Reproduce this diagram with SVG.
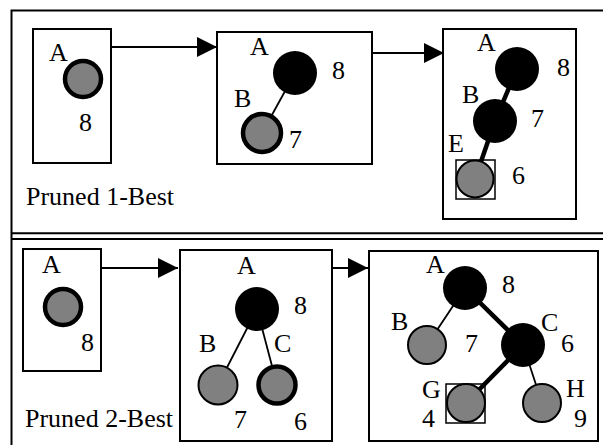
<svg xmlns="http://www.w3.org/2000/svg" width="603" height="445" viewBox="0 0 603 445">
  <defs>
    <marker id="head" viewBox="0 0 20 20" refX="20" refY="10" markerWidth="20" markerHeight="20" markerUnits="userSpaceOnUse" orient="auto">
      <path d="M0,0 L20,10 L0,20 Z" fill="#000"/>
    </marker>
  </defs>
  <style>
    text { font-family: "Liberation Serif", "Times New Roman", serif; font-size: 26px; fill: #000; }
    .frame { fill: none; stroke: #000; stroke-width: 2; }
    .box { fill: #fff; stroke: #000; stroke-width: 2; }
    .sel { fill: none; stroke: #000; stroke-width: 1.5; }
    .open { fill: #808080; stroke: #000; stroke-width: 2; }
    .open-best { fill: #808080; stroke: #000; stroke-width: 4.5; }
    .closed { fill: #000; stroke: none; }
    .edge { stroke: #000; stroke-width: 1.8; fill: none; }
    .edge-best { stroke: #000; stroke-width: 4.5; fill: none; }
    .flow { stroke: #000; stroke-width: 2; fill: none; marker-end: url(#head); }
  </style>

  <rect width="603" height="445" fill="#fff"/>

  <!-- page frame and divider between the two runs -->
  <g id="frame">
    <path class="frame" d="M11.5,445 V10.5 H603"/>
    <line class="frame" x1="11" y1="233.3" x2="603" y2="233.3"/>
    <line class="frame" x1="11" y1="239" x2="603" y2="239"/>
  </g>

  <!-- search steps, top row: pruned 1-best -->
  <g id="step1a">
    <rect class="box" x="33" y="29" width="78" height="134"/>
    <text x="49" y="61">A</text>
    <circle class="open-best" cx="83" cy="79" r="18"/>
    <text x="79" y="131">8</text>
  </g>

  <g id="step1b">
    <rect class="box" x="217" y="32" width="155" height="132"/>
    <line class="edge" x1="295" y1="73" x2="262" y2="133"/>
    <circle class="closed" cx="295" cy="73" r="22"/>
    <circle class="open-best" cx="262" cy="133" r="19"/>
    <text x="250" y="55">A</text>
    <text x="332" y="79">8</text>
    <text x="234" y="107">B</text>
    <text x="289" y="148">7</text>
  </g>

  <g id="step1c">
    <rect class="box" x="443" y="29" width="133" height="190"/>
    <line class="edge-best" x1="517" y1="69" x2="495" y2="121"/>
    <line class="edge-best" x1="495" y1="121" x2="475" y2="179"/>
    <circle class="closed" cx="517" cy="69" r="22"/>
    <circle class="closed" cx="495" cy="121" r="22"/>
    <circle class="open" cx="475" cy="179" r="18.5"/>
    <rect class="sel" x="456" y="160" width="39" height="39"/>
    <text x="477" y="51">A</text>
    <text x="557" y="76">8</text>
    <text x="462" y="103">B</text>
    <text x="531" y="127">7</text>
    <text x="448" y="152">E</text>
    <text x="512" y="184">6</text>
  </g>

  <text x="26" y="205">Pruned 1-Best</text>

  <!-- search steps, bottom row: pruned 2-best -->
  <g id="step2a">
    <rect class="box" x="23" y="249" width="78" height="122"/>
    <text x="42" y="273">A</text>
    <circle class="open-best" cx="63" cy="307" r="18"/>
    <text x="81" y="351">8</text>
  </g>

  <g id="step2b">
    <rect class="box" x="180" y="250" width="152" height="191"/>
    <line class="edge" x1="257" y1="309" x2="218" y2="385"/>
    <line class="edge" x1="257" y1="309" x2="277" y2="385"/>
    <circle class="closed" cx="257" cy="309" r="22"/>
    <circle class="open" cx="218" cy="385" r="19.5"/>
    <circle class="open-best" cx="277" cy="385" r="18.5"/>
    <text x="237" y="274">A</text>
    <text x="294" y="314">8</text>
    <text x="199" y="352">B</text>
    <text x="274" y="352">C</text>
    <text x="234" y="428">7</text>
    <text x="294" y="430">6</text>
  </g>

  <g id="step2c">
    <rect class="box" x="369" y="251" width="229" height="190"/>
    <line class="edge" x1="465" y1="288" x2="427" y2="345"/>
    <line class="edge-best" x1="465" y1="288" x2="523" y2="345"/>
    <line class="edge-best" x1="523" y1="345" x2="466" y2="403"/>
    <line class="edge" x1="523" y1="345" x2="542" y2="403"/>
    <circle class="closed" cx="465" cy="288" r="22"/>
    <circle class="open" cx="427" cy="345" r="19"/>
    <circle class="closed" cx="523" cy="345" r="22"/>
    <circle class="open" cx="466" cy="403" r="19"/>
    <circle class="open" cx="542" cy="403" r="19"/>
    <rect class="sel" x="446" y="384" width="39" height="39"/>
    <text x="426" y="273">A</text>
    <text x="502" y="293">8</text>
    <text x="391" y="330">B</text>
    <text x="465" y="352">7</text>
    <text x="541" y="331">C</text>
    <text x="561" y="352">6</text>
    <text x="422" y="398">G</text>
    <text x="422" y="427">4</text>
    <text x="566" y="397">H</text>
    <text x="574" y="427">9</text>
  </g>

  <text x="25" y="427">Pruned 2-Best</text>

  <!-- step-to-step arrows -->
  <g id="connectors">
    <line class="flow" x1="111" y1="47" x2="217" y2="47"/>
    <line class="flow" x1="372" y1="53" x2="444" y2="53"/>
    <line class="flow" x1="101" y1="268" x2="178" y2="268"/>
    <line class="flow" x1="332" y1="268" x2="368" y2="268"/>
  </g>
</svg>
